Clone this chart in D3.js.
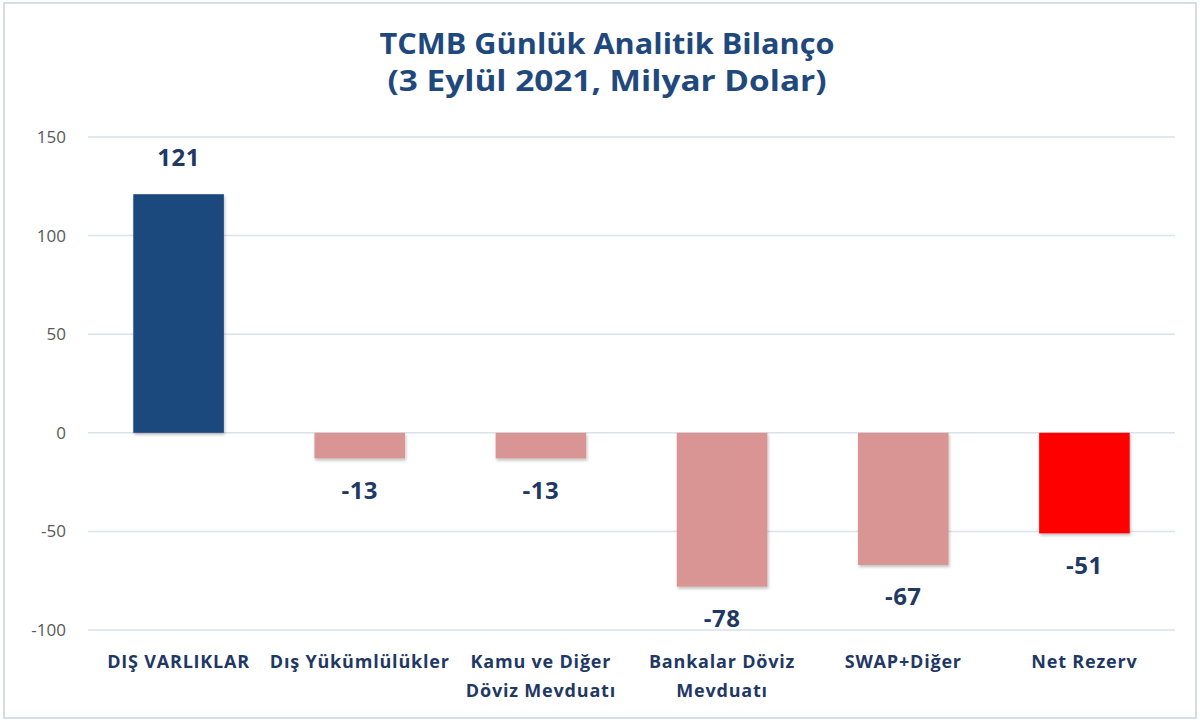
<!DOCTYPE html>
<html><head><meta charset="utf-8">
<script src="https://cdn.jsdelivr.net/npm/d3@7"></script>
<style>body{margin:0;background:#fff}</style>
</head><body>
<svg id="c" width="1200" height="722"></svg>
<script>
const categories = [["DIŞ VARLIKLAR"],["Dış Yükümlülükler"],["Kamu ve Diğer","Döviz Mevduatı"],["Bankalar Döviz","Mevduatı"],["SWAP+Diğer"],["Net Rezerv"]];
const values = [121,-13,-13,-78,-67,-51];
const colors = ["#1F497D","#D99594","#D99594","#D99594","#D99594","#FF0000"];
const yTicks = [-100,-50,0,50,100,150];
const titleLines = ["TCMB Günlük Analitik Bilanço","(3 Eylül 2021, Milyar Dolar)"];

const svg = d3.select("#c");
svg.append("rect").attr("x",4).attr("y",3).attr("width",1192).attr("height",715)
  .attr("fill","#fff").attr("stroke","#d5dde8").attr("stroke-width",2);

const x = d3.scaleBand().domain(d3.range(values.length)).range([88,1175]).paddingInner(0.5).paddingOuter(0.25);
const y = d3.scaleLinear().domain([-100,150]).range([630,137]);

const defs = svg.append("defs");
const f = defs.append("filter").attr("id","sh").attr("x","-10%").attr("y","-10%").attr("width","130%").attr("height","130%");
f.append("feDropShadow").attr("dx",1).attr("dy",2).attr("stdDeviation",1.5).attr("flood-color","#000").attr("flood-opacity",0.25);

svg.append("g").selectAll("line").data(yTicks).join("line")
  .attr("x1",88).attr("x2",1175).attr("y1",d=>y(d)).attr("y2",d=>y(d))
  .attr("stroke","#d9e1ea").attr("stroke-width",1.5);

const ax = svg.append("g").attr("transform","translate(66,0)")
  .call(d3.axisLeft(y).tickValues(yTicks).tickSize(0).tickPadding(0).tickFormat(d=>String(d)));
ax.select(".domain").remove();
ax.selectAll("text").attr("fill","#595959").attr("font-family","'Open Sans',sans-serif").attr("font-size",17);

svg.append("g").selectAll("rect").data(values).join("rect")
  .attr("x",(d,i)=>x(i)).attr("width",x.bandwidth())
  .attr("y",d=>y(Math.max(0,d))).attr("height",d=>Math.abs(y(d)-y(0)))
  .attr("fill",(d,i)=>colors[i]).attr("filter","url(#sh)");

svg.append("g").selectAll("text").data(values).join("text")
  .attr("x",(d,i)=>x(i)+x.bandwidth()/2)
  .attr("y",d=>d>=0 ? y(d)-37 : y(d)+32)
  .attr("dy","0.35em").attr("text-anchor","middle")
  .attr("font-family","'Open Sans',sans-serif").attr("font-weight","bold").attr("font-size",24)
  .attr("letter-spacing",0.5)
  .attr("fill","#1F3864").text(d=>d);

const cl = svg.append("g").selectAll("text").data(categories).join("text")
  .attr("x",(d,i)=>x(i)+x.bandwidth()/2).attr("y",668)
  .attr("text-anchor","middle").attr("font-family","'Open Sans',sans-serif")
  .attr("font-weight","bold").attr("font-size",18).attr("letter-spacing",0.8).attr("fill","#1F3864");
cl.each(function(d){
  const t = d3.select(this);
  d.forEach((s,j)=>t.append("tspan").attr("x",t.attr("x")).attr("dy",j?29:0).text(s));
});

const titleWidths = [455,439];
svg.append("g").selectAll("text").data(titleLines).join("text")
  .attr("x",607).attr("y",(d,i)=>44+i*37).attr("dy","0.35em").attr("text-anchor","middle")
  .attr("font-family","'Open Sans',sans-serif").attr("font-weight","bold").attr("font-size",29)
  .attr("textLength",(d,i)=>titleWidths[i]).attr("lengthAdjust","spacingAndGlyphs")
  .attr("fill","#1F497D").text(d=>d);
</script>
</body></html>
